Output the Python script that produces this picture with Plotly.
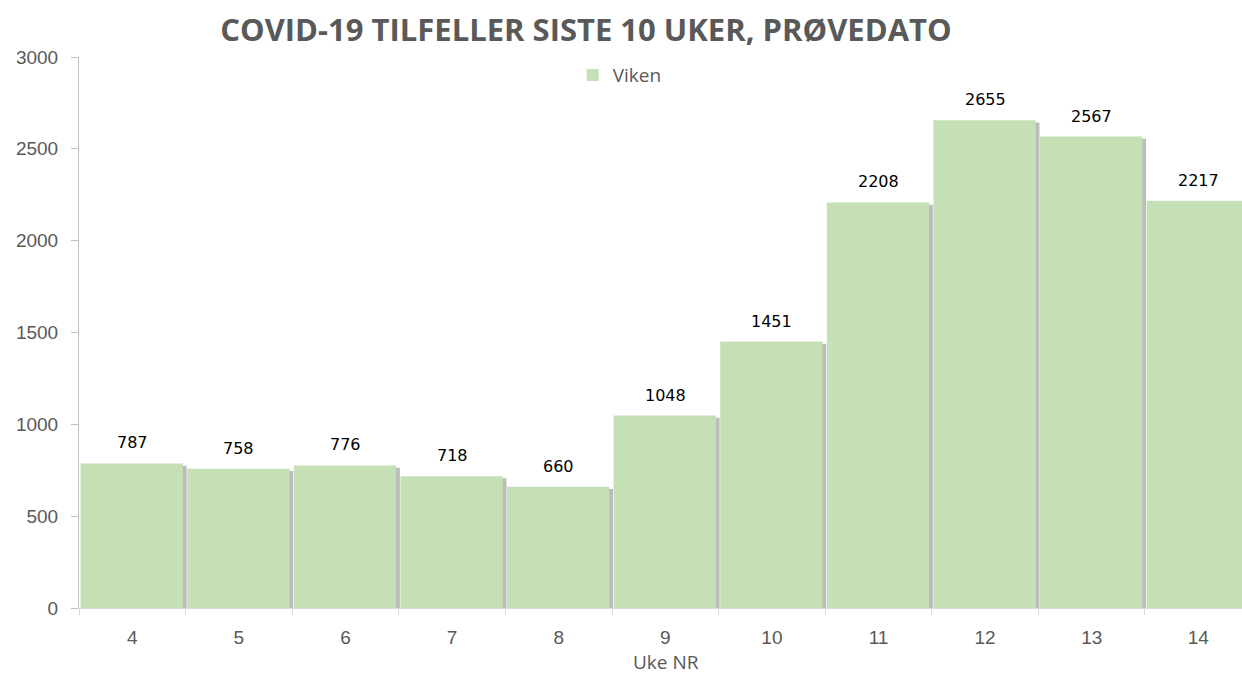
import plotly.graph_objects as go

weeks = ["4", "5", "6", "7", "8", "9", "10", "11", "12", "13", "14"]
cases = [787, 758, 776, 718, 660, 1048, 1451, 2208, 2655, 2567, 2217]
series_name = "Viken"
title_text = "COVID-19 TILFELLER SISTE 10 UKER, PRØVEDATO"
x_title = "Uke NR"
y_ticks = [0, 500, 1000, 1500, 2000, 2500, 3000]

GREEN = "#c5e0b4"
GRAY_TXT = "#595959"

fig = go.Figure()
# shadow
fig.add_trace(go.Bar(
    x=weeks, y=[v - 12 for v in cases], width=0.96, offset=-0.45,
    marker=dict(color="#bcbcbc", line=dict(width=0)),
    showlegend=False, hoverinfo="skip"))
fig.add_trace(go.Bar(
    x=weeks, y=cases, width=0.96, offset=-0.485, name=series_name,
    marker=dict(color=GREEN, line=dict(width=0))))

for i, v in enumerate(cases):
    fig.add_annotation(x=i, y=v, text=str(v), showarrow=False,
                       yanchor="bottom", yshift=9,
                       font=dict(family="DejaVu Sans", size=16, color="#000000"))

fig.add_annotation(text=x_title, xref="paper", yref="paper", x=0.5043, y=-0.125,
                   xanchor="center", yanchor="bottom", showarrow=False,
                   font=dict(family="Open Sans", size=19, color=GRAY_TXT))

fig.update_layout(
    width=1242, height=678,
    margin=dict(l=79, r=0, t=57, b=70),
    paper_bgcolor="white", plot_bgcolor="white",
    barmode="overlay",
    title=dict(text=f"<b>{title_text}</b>", x=0.4718, xanchor="center",
               y=0.956, yanchor="middle",
               font=dict(family="Open Sans", size=31, color=GRAY_TXT)),
    legend=dict(orientation="h", x=0.4649, xanchor="center", y=0.967, yanchor="middle",
                font=dict(family="Open Sans", size=19, color=GRAY_TXT),
                bgcolor="rgba(0,0,0,0)", itemwidth=30),
    showlegend=True,
)
fig.update_xaxes(
    type="category", range=[-0.5, 10.41], automargin=False,
    showline=True, linecolor="#d9d9d9", linewidth=1,
    ticks="outside", tickson="boundaries", ticklen=6, tickcolor="#d9d9d9",
    tickfont=dict(family="Liberation Sans", size=19, color=GRAY_TXT),
    ticklabelstandoff=12,
    showgrid=False, zeroline=False,
)
fig.update_yaxes(
    range=[0, 3000], tickvals=y_ticks, automargin=False,
    showline=True, linecolor="#bfbfbf", linewidth=1,
    ticks="outside", ticklen=7, tickcolor="#bfbfbf",
    tickfont=dict(family="Liberation Sans", size=19, color=GRAY_TXT),
    ticklabelstandoff=9,
    showgrid=False, zeroline=False,
)

fig.write_html("out.html", config={"displayModeBar": False},
               post_script="document.body.style.margin='0';")
